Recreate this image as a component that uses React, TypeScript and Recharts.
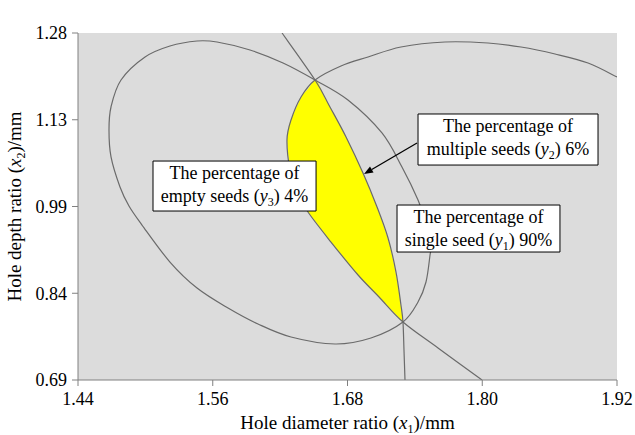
import React from "react";
import {
  ComposedChart,
  XAxis,
  YAxis,
  Line,
  Area,
  CartesianGrid,
  ReferenceArea,
  ReferenceLine,
  Label,
} from "recharts";

const FONT = "'Liberation Serif', 'Times New Roman', serif";

const X_TICKS = [1.44, 1.56, 1.68, 1.8, 1.92];
const X_TICK_LABELS = ["1.44", "1.56", "1.68", "1.80", "1.92"];
const Y_TICKS = [0.69, 0.8375, 0.985, 1.1325, 1.28];
const Y_TICK_LABELS = ["0.69", "0.84", "0.99", "1.13", "1.28"];

// y1 single seed 90% contour (closed)
const singleSeed = [
  { x: 1.546, y: 1.2664 }, { x: 1.5638, y: 1.2647 }, { x: 1.5932, y: 1.2511 },
  { x: 1.6226, y: 1.229 }, { x: 1.6511, y: 1.2001 }, { x: 1.6804, y: 1.1661 },
  { x: 1.7107, y: 1.11 }, { x: 1.7285, y: 1.0521 }, { x: 1.7428, y: 0.996 },
  { x: 1.7508, y: 0.9535 }, { x: 1.7544, y: 0.9195 }, { x: 1.7535, y: 0.9025 },
  { x: 1.7499, y: 0.8566 }, { x: 1.7428, y: 0.8226 }, { x: 1.7294, y: 0.7886 },
  { x: 1.7009, y: 0.7614 }, { x: 1.6689, y: 0.7512 }, { x: 1.6297, y: 0.7631 },
  { x: 1.6003, y: 0.7852 }, { x: 1.5736, y: 0.8124 }, { x: 1.546, y: 0.8464 },
  { x: 1.5219, y: 0.8906 }, { x: 1.497, y: 0.9535 }, { x: 1.4854, y: 0.9858 },
  { x: 1.4774, y: 1.0181 }, { x: 1.4694, y: 1.0692 }, { x: 1.4676, y: 1.1151 },
  { x: 1.4694, y: 1.1542 }, { x: 1.4783, y: 1.2001 }, { x: 1.4997, y: 1.2392 },
  { x: 1.5219, y: 1.2579 },
];

// y2 multiple seeds 6% contour
const multipleSeeds = [
  { x: 1.6217, y: 1.28 }, { x: 1.6511, y: 1.2001 }, { x: 1.6644, y: 1.1542 },
  { x: 1.6787, y: 1.1032 }, { x: 1.6938, y: 1.0419 }, { x: 1.7063, y: 0.9841 },
  { x: 1.7161, y: 0.9314 }, { x: 1.7232, y: 0.8736 }, { x: 1.7276, y: 0.8175 },
  { x: 1.7294, y: 0.7886 }, { x: 1.7303, y: 0.741 }, { x: 1.7312, y: 0.69 },
];

// y3 empty seeds 4% contour
const emptySeeds = [
  { x: 1.92, y: 1.2052 }, { x: 1.8942, y: 1.229 }, { x: 1.8648, y: 1.2443 },
  { x: 1.8345, y: 1.2562 }, { x: 1.8051, y: 1.263 }, { x: 1.7668, y: 1.2647 },
  { x: 1.7276, y: 1.2562 }, { x: 1.6983, y: 1.2392 }, { x: 1.6742, y: 1.2239 },
  { x: 1.6511, y: 1.2001 }, { x: 1.6386, y: 1.1712 }, { x: 1.6297, y: 1.1321 },
  { x: 1.6261, y: 1.0981 }, { x: 1.6288, y: 1.047 }, { x: 1.635, y: 1.0096 },
  { x: 1.6448, y: 0.9756 }, { x: 1.6653, y: 0.9246 }, { x: 1.6894, y: 0.8685 },
  { x: 1.7081, y: 0.8311 }, { x: 1.7294, y: 0.7886 }, { x: 1.7606, y: 0.7444 },
  { x: 1.7998, y: 0.69 },
];

// feasible (overlay) region: [lower, upper] of x2 for each x1
const feasibleRegion = [
  { x: 1.6261, band: [1.0981, 1.0981] },
  { x: 1.6275, band: [1.068, 1.118] },
  { x: 1.63, band: [1.04, 1.1334] },
  { x: 1.635, band: [1.0096, 1.1554] },
  { x: 1.64, band: [0.9923, 1.175] },
  { x: 1.645, band: [0.9756, 1.1853] },
  { x: 1.6511, band: [0.9603, 1.2001] },
  { x: 1.66, band: [0.9378, 1.1694] },
  { x: 1.67, band: [0.9137, 1.1342] },
  { x: 1.68, band: [0.8904, 1.0979] },
  { x: 1.69, band: [0.8673, 1.0573] },
  { x: 1.7, band: [0.8473, 1.0132] },
  { x: 1.71, band: [0.8273, 0.9642] },
  { x: 1.72, band: [0.8073, 0.8997] },
  { x: 1.725, band: [0.7975, 0.8506] },
  { x: 1.7294, band: [0.7886, 0.7886] },
];

// annotation boxes (data coordinates) and arrow
const boxEmpty = { x1: 1.5068, x2: 1.652, y1: 0.9773, y2: 1.0623 };
const boxMultiple = { x1: 1.7428, x2: 1.9031, y1: 1.0555, y2: 1.1423 };
const boxSingle = { x1: 1.7241, x2: 1.8692, y1: 0.9076, y2: 0.9875 };
const arrowSegment = [
  { x: 1.7419, y: 1.093 },
  { x: 1.6947, y: 1.0402 },
];

function makeCatmull(closed: boolean) {
  return function (context: any) {
    let pts: number[][] = [];
    return {
      areaStart() {},
      areaEnd() {},
      lineStart() {
        pts = [];
      },
      point(x: number, y: number) {
        pts.push([+x, +y]);
      },
      lineEnd() {
        const n = pts.length;
        if (!n) return;
        const get = (i: number) =>
          closed ? pts[(i + n) % n] : pts[Math.max(0, Math.min(n - 1, i))];
        context.moveTo(pts[0][0], pts[0][1]);
        const segs = closed ? n : n - 1;
        for (let i = 0; i < segs; i++) {
          const p0 = get(i - 1);
          const p1 = get(i);
          const p2 = get(i + 1);
          const p3 = get(i + 2);
          context.bezierCurveTo(
            p1[0] + (p2[0] - p0[0]) / 6,
            p1[1] + (p2[1] - p0[1]) / 6,
            p2[0] - (p3[0] - p1[0]) / 6,
            p2[1] - (p3[1] - p1[1]) / 6,
            p2[0],
            p2[1]
          );
        }
        if (closed) context.closePath();
      },
    };
  };
}

const curveOpen = makeCatmull(false);
const curveClosed = makeCatmull(true);

function boxLabel(sub: string, pre: string, post: string) {
  return (props: any) => {
    const vb = props.viewBox || {};
    const cx = vb.x + vb.width / 2;
    return (
      <text textAnchor="middle" fontFamily={FONT} fontSize={18} fill="#000">
        <tspan x={cx} y={vb.y + 18}>The percentage of</tspan>
        <tspan x={cx} y={vb.y + 41}>
          {pre}
          <tspan fontStyle="italic">y</tspan>
          <tspan fontSize={12} dy={4}>{sub}</tspan>
          <tspan dy={-4}>{post}</tspan>
        </tspan>
      </text>
    );
  };
}

const XTitle = (props: any) => {
  const vb = props.viewBox;
  const cx = vb.x + vb.width / 2;
  return (
    <text x={cx} y={vb.y + 49} textAnchor="middle" fontFamily={FONT} fontSize={19} fill="#000">
      Hole diameter ratio (<tspan fontStyle="italic">x</tspan>
      <tspan fontSize={12} dy={4}>1</tspan>
      <tspan dy={-4}>)/mm</tspan>
    </text>
  );
};

const YTitle = (props: any) => {
  const vb = props.viewBox;
  const cy = vb.y + vb.height / 2;
  const x = 21;
  return (
    <text
      x={x}
      y={cy}
      transform={`rotate(-90, ${x}, ${cy})`}
      textAnchor="middle"
      fontFamily={FONT}
      fontSize={19}
      fill="#000"
    >
      Hole depth ratio (<tspan fontStyle="italic">x</tspan>
      <tspan fontSize={12} dy={4}>2</tspan>
      <tspan dy={-4}>)/mm</tspan>
    </text>
  );
};

const PlotTitle = (props: any) => {
  const vb = props.viewBox;
  return (
    <text x={vb.x + vb.width / 2} y={vb.y - 8} textAnchor="middle" fontFamily={FONT} fontSize={19} fill="#000">
      Overlay plot
    </text>
  );
};

const ArrowShape = (p: any) => {
  const { x1, y1, x2, y2 } = p;
  const ang = Math.atan2(y2 - y1, x2 - x1);
  const L = 9;
  const W = 3.5;
  const bx = x2 - L * Math.cos(ang);
  const by = y2 - L * Math.sin(ang);
  const nx = -Math.sin(ang);
  const ny = Math.cos(ang);
  return (
    <g>
      <line x1={x1} y1={y1} x2={bx} y2={by} stroke="#000" strokeWidth={1.3} />
      <polygon
        points={`${x2},${y2} ${bx + nx * W},${by + ny * W} ${bx - nx * W},${by - ny * W}`}
        fill="#000"
      />
    </g>
  );
};

const AXIS = "#808080";
const CURVE = "#6a6a6a";

export default function App() {
  return (
    <div style={{ position: "absolute", left: 0, top: 0, background: "#fff" }}>
      <ComposedChart
        width={635}
        height={435}
        data={feasibleRegion}
        margin={{ top: 33, right: 18, bottom: 15, left: 18 }}
      >
        <CartesianGrid fill="#dcdcdc" horizontal={false} vertical={false} />
        <XAxis
          dataKey="x"
          type="number"
          domain={[1.44, 1.92]}
          ticks={X_TICKS}
          tickFormatter={(v: number, i: number) => X_TICK_LABELS[i]}
          allowDataOverflow
          height={40}
          tickSize={6}
          tickMargin={6}
          stroke={AXIS}
          tick={{ fill: "#000", fontSize: 18, fontFamily: FONT }}
        >
          <Label content={XTitle} />
        </XAxis>
        <XAxis
          xAxisId="top"
          orientation="top"
          type="number"
          domain={[1.44, 1.92]}
          height={0}
          tick={false}
          tickLine={false}
          stroke={AXIS}
        >
          <Label content={PlotTitle} />
        </XAxis>
        <YAxis
          type="number"
          domain={[0.69, 1.28]}
          ticks={Y_TICKS}
          tickFormatter={(v: number, i: number) => Y_TICK_LABELS[i]}
          allowDataOverflow
          width={60}
          tickSize={6}
          tickMargin={5}
          stroke={AXIS}
          tick={{ fill: "#000", fontSize: 18, fontFamily: FONT }}
        >
          <Label content={YTitle} />
        </YAxis>
        <YAxis
          yAxisId="right"
          orientation="right"
          type="number"
          domain={[0.69, 1.28]}
          width={0}
          tick={false}
          tickLine={false}
          stroke={AXIS}
        />
        <Area
          dataKey="band"
          type="monotone"
          fill="#ffff00"
          fillOpacity={1}
          stroke="none"
          isAnimationActive={false}
          dot={false}
          activeDot={false}
        />
        <Line
          data={singleSeed}
          dataKey="y"
          type={curveClosed as any}
          stroke={CURVE}
          strokeWidth={1.2}
          dot={false}
          activeDot={false}
          isAnimationActive={false}
        />
        <Line
          data={multipleSeeds}
          dataKey="y"
          type={curveOpen as any}
          stroke={CURVE}
          strokeWidth={1.2}
          dot={false}
          activeDot={false}
          isAnimationActive={false}
        />
        <Line
          data={emptySeeds}
          dataKey="y"
          type={curveOpen as any}
          stroke={CURVE}
          strokeWidth={1.2}
          dot={false}
          activeDot={false}
          isAnimationActive={false}
        />
        <ReferenceArea
          {...boxEmpty}
          fill="#fff"
          fillOpacity={1}
          stroke="#000"
          strokeWidth={1}
          zIndex={1000}
          label={boxLabel("3", "empty seeds (", ") 4%")}
        />
        <ReferenceArea
          {...boxMultiple}
          fill="#fff"
          fillOpacity={1}
          stroke="#000"
          strokeWidth={1}
          zIndex={1000}
          label={boxLabel("2", "multiple seeds (", ") 6%")}
        />
        <ReferenceArea
          {...boxSingle}
          fill="#fff"
          fillOpacity={1}
          stroke="#000"
          strokeWidth={1}
          zIndex={1000}
          label={boxLabel("1", "single seed (", ") 90%")}
        />
        <ReferenceLine
          segment={arrowSegment}
          stroke="#000"
          zIndex={1000}
          shape={ArrowShape}
        />
      </ComposedChart>
    </div>
  );
}
